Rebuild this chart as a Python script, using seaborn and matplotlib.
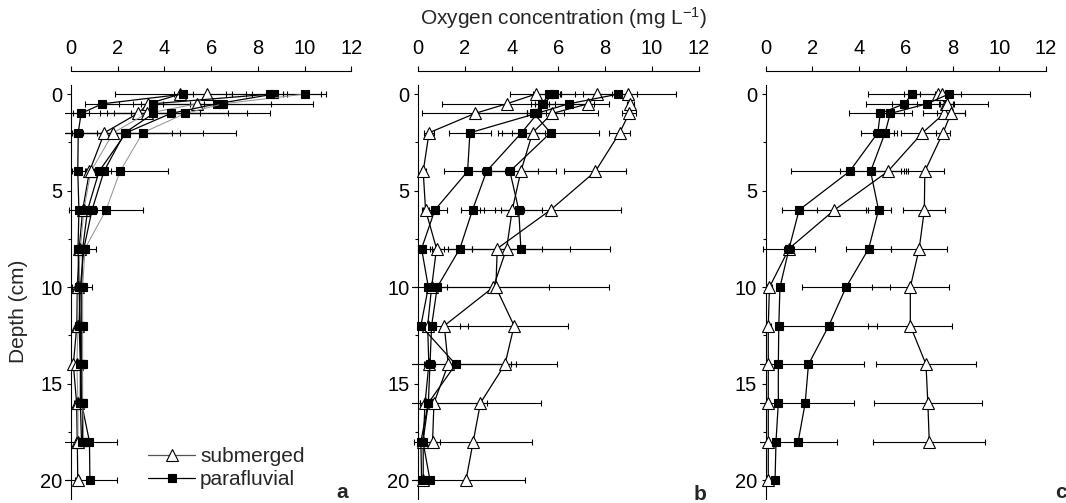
import numpy as np
import pandas as pd
import matplotlib
matplotlib.use("Agg")
import matplotlib.pyplot as plt
import seaborn as sns
from matplotlib.lines import Line2D
from matplotlib.patches import Rectangle
from matplotlib.ticker import MultipleLocator

sns.set_style("ticks")
plt.rcParams["font.family"] = ["Liberation Sans", "DejaVu Sans"]
plt.rcParams["mathtext.fontset"] = "custom"
plt.rcParams["mathtext.rm"] = "Liberation Sans"
plt.rcParams["mathtext.it"] = "Liberation Sans:italic"

nan = np.nan
depths = [0, 0.5, 1, 2, 4, 6, 8, 10, 12, 14, 16, 18, 20]
x_ticks = [0, 2, 4, 6, 8, 10, 12]
y_ticks = [0, 5, 10, 15, 20]
legend_labels = ["submerged", "parafluvial"]
panel_letters = ["a", "b", "c"]

# ---- panel a ----
a_sub1 = [4.67, 3.31, 2.86, 1.43, 0.79, 0.50, 0.35, 0.27, 0.25, 0.10, 0.24, 0.27, 0.29]
a_sub1_err = [2.80, 0.30, 0.30, 0.30, 0.20, 0.20, 0.15, 0.10, 0.10, 0.10, 0.10, 0.10, 0.10]
a_sub2 = [5.81, 5.39, 3.24, 1.81, 0.85, 0.55, 0.40, 0.30, 0.30, 0.25, 0.30, 0.30, nan]
a_sub2_err = [1.10, 0.30, 4.30, 2.50, 0.20, 0.20, 0.15, 0.10, 0.10, 0.10, 0.10, 0.10, nan]
a_par1 = [4.81, 1.34, 0.43, 0.31, 0.29, 0.34, 0.30, 0.35, 0.40, 0.42, 0.45, 0.79, 0.81]
a_par1_err = [0.40, 0.73, 0.36, 0.20, 0.10, 0.10, 0.10, 0.10, 0.10, 0.10, 0.10, 1.17, 1.15]
a_par2 = [8.67, 6.24, 4.27, 2.36, 1.20, 0.71, 0.50, 0.46, 0.46, 0.46, 0.49, 0.50, nan]
a_par2_err = [2.05, 2.30, 2.44, 2.30, 0.30, 0.20, 0.15, 0.43, 0.12, 0.12, 0.12, 0.12, nan]
a_par3 = [10.0, 6.50, 4.89, 3.07, 2.10, 1.50, 0.60, 0.50, 0.50, 0.50, 0.50, 0.55, nan]
a_par3_err = [0.93, 3.85, 3.64, 4.00, 2.07, 1.57, 0.47, 0.15, 0.15, 0.15, 0.15, 0.15, nan]
a_par4 = [8.50, 3.49, 3.53, 2.30, 1.41, 0.90, 0.55, 0.40, 0.35, 0.40, 0.40, 0.45, nan]
a_par4_err = [0.74, 2.00, 2.00, 3.37, 0.30, 0.20, 0.15, 0.10, 0.10, 0.10, 0.10, 0.10, nan]

# ---- panel b ----
b_sub1 = [5.02, 3.78, 2.42, 0.46, 0.21, 0.31, 0.78, 0.57, 0.40, 0.45, 0.29, 0.21, 0.21]
b_sub1_err = [1.10, 2.75, 2.25, 0.20, 0.10, 0.15, 0.30, 0.30, 0.20, 0.20, 0.20, 0.10, 0.10]
b_sub2 = [7.67, 7.27, 5.73, 4.89, 4.39, 4.02, 3.78, 3.21, 1.11, 1.28, 0.67, 0.61, nan]
b_sub2_err = [0.60, 0.90, 0.50, 0.90, 1.50, 0.50, 1.50, 2.40, 1.03, 2.70, 2.25, 0.30, nan]
b_sub3 = [8.99, 9.08, 9.02, 8.62, 7.58, 5.66, 3.38, 3.32, 4.10, 3.71, 2.66, 2.35, 2.04]
b_sub3_err = [0.35, 0.15, 0.30, 0.45, 1.33, 3.00, 3.10, 4.85, 2.30, 2.23, 2.60, 2.52, 2.52]
b_par1 = [5.80, 5.34, 4.95, 5.66, 3.92, 4.30, 4.39, nan, nan, nan, nan, nan, nan]
b_par1_err = [0.90, 0.50, 0.30, 2.06, 1.20, 1.00, 3.80, nan, nan, nan, nan, nan, nan]
b_par2 = [5.60, 5.30, 5.10, 4.42, 2.92, 2.32, 1.78, 0.81, 0.57, 0.50, 0.43, 0.11, 0.14]
b_par2_err = [0.50, 0.30, 2.60, 1.00, 0.80, 0.50, 0.50, 0.43, 0.20, 0.20, 0.15, 0.10, 0.10]
b_par3 = [8.55, 6.44, 5.05, 2.21, 2.11, 0.71, 0.14, 0.43, 0.11, 1.60, 0.43, 0.20, 0.50]
b_par3_err = [2.50, 1.10, 0.40, 0.90, 1.00, 0.50, 0.10, 0.10, 0.10, 2.60, 0.20, 0.10, 0.10]

# ---- panel c ----
c_sub1 = [7.37, 7.70, 7.64, 6.71, 5.23, 2.94, 1.00, 0.16, 0.11, 0.11, 0.11, 0.11, 0.11]
c_sub1_err = [1.00, 0.30, 0.90, 0.90, 0.70, 1.45, 0.20, 0.10, 0.10, 0.05, 0.05, 0.05, 0.05]
c_sub2 = [7.55, 7.75, 7.93, 7.59, 6.81, 6.79, 6.57, 6.19, 6.19, 6.86, 6.94, 7.00, nan]
c_sub2_err = [0.30, 0.30, 0.60, 0.30, 0.80, 0.90, 1.20, 1.64, 1.80, 2.13, 2.30, 2.40, nan]
c_par1 = [6.26, 5.94, 4.90, 4.80, 3.59, 1.43, 1.00, 0.61, 0.56, 0.54, 0.54, 0.44, 0.40]
c_par1_err = [0.35, 0.55, 1.35, 0.70, 2.50, 0.75, 1.10, 0.10, 0.10, 0.10, 0.10, 0.10, 0.10]
c_par2 = [7.83, 6.90, 5.33, 5.11, 4.49, 4.83, 4.41, 3.44, 2.70, 1.83, 1.69, 1.39, nan]
c_par2_err = [3.47, 2.60, 0.60, 0.50, 1.30, 0.55, 0.97, 1.90, 2.05, 2.36, 2.07, 1.68, nan]

BLACK, GRAY = "black", "#8f8f8f"
panels = [
    [("sub", a_sub1, a_sub1_err, BLACK), ("sub", a_sub2, a_sub2_err, GRAY),
     ("par", a_par1, a_par1_err, BLACK), ("par", a_par2, a_par2_err, BLACK),
     ("par", a_par3, a_par3_err, GRAY), ("par", a_par4, a_par4_err, BLACK)],
    [("sub", b_sub1, b_sub1_err, BLACK), ("sub", b_sub2, b_sub2_err, BLACK),
     ("sub", b_sub3, b_sub3_err, BLACK), ("par", b_par1, b_par1_err, BLACK),
     ("par", b_par2, b_par2_err, BLACK), ("par", b_par3, b_par3_err, BLACK)],
    [("sub", c_sub1, c_sub1_err, BLACK), ("sub", c_sub2, c_sub2_err, BLACK),
     ("par", c_par1, c_par1_err, BLACK), ("par", c_par2, c_par2_err, BLACK)],
]

style = {
    "sub": dict(marker="^", markersize=8.0, markerfacecolor="white"),
    "par": dict(marker="s", markersize=5.8, markerfacecolor="black"),
}

fig = plt.figure(figsize=(10.66, 5.03), dpi=100)
lefts = [0.0666, 0.3924, 0.7183]
axes = []
for left, series in zip(lefts, panels):
    ax = fig.add_axes([left, 0.0070, 0.2630, 0.8250])
    axes.append(ax)
    ax.set_xlim(0, 12)
    ax.set_ylim(21, -0.5)
    clip = Rectangle((-0.25, -5), 12.75, 30, transform=ax.transData)
    for kind, vals, errs, col in series:
        df = pd.DataFrame({"depth": depths, "o2": vals, "err": errs}).dropna()
        eb = ax.errorbar(df["o2"], df["depth"], xerr=df["err"], fmt="none",
                         ecolor="black", elinewidth=0.8, capsize=2.3,
                         capthick=0.8, zorder=2)
        for art in eb.get_children():
            art.set_clip_path(clip)
    for kind, vals, errs, col in series:
        df = pd.DataFrame({"depth": depths, "o2": vals, "err": errs}).dropna()
        lw = 0.7 if col == GRAY else 0.9
        sns.lineplot(data=df, x="o2", y="depth", orient="y", estimator=None,
                     color=col, lw=lw, markeredgecolor="black",
                     markeredgewidth=0.8, ax=ax, zorder=3, clip_on=False,
                     **style[kind])
    ax.set_xlabel("")
    ax.set_ylabel("")
    ax.set_xlim(0, 12)
    ax.set_ylim(21, -0.5)
    ax.xaxis.set_ticks_position("top")
    ax.spines["top"].set_position(("outward", 9.8))
    ax.spines["right"].set_visible(False)
    ax.spines["bottom"].set_visible(False)
    for s in ("top", "left"):
        ax.spines[s].set_color("black")
        ax.spines[s].set_linewidth(0.8)
    ax.set_xticks(x_ticks)
    ax.set_yticks(y_ticks)
    ax.yaxis.set_minor_locator(MultipleLocator(2.5))
    ax.tick_params(axis="x", which="major", direction="out", length=3.5,
                   width=0.8, pad=6, labelsize=14.5, top=True, bottom=False,
                   labeltop=True, labelbottom=False, colors="black")
    ax.tick_params(axis="y", which="major", direction="out", length=3.2,
                   width=0.8, pad=3, labelsize=14.5, colors="black")
    ax.tick_params(axis="y", which="minor", direction="out", length=2,
                   width=0.8, colors="black")

handles = [
    Line2D([], [], color="#555555", lw=0.9, markeredgecolor="black",
           markeredgewidth=0.8, **style["sub"]),
    Line2D([], [], color="black", lw=0.9, markeredgecolor="black",
           markeredgewidth=0.8, **style["par"]),
]
axes[0].legend(handles, legend_labels, loc="center left",
               bbox_to_anchor=(0.275, 0.075), frameon=False, fontsize=15,
               handlelength=2.25, handletextpad=0.25, labelspacing=0.2,
               borderpad=0, borderaxespad=0)

fig.text(564 / 1066, 1 - 18 / 503, "Oxygen concentration (mg L$^{-1}$)",
         ha="center", va="center", fontsize=15)
fig.text(19 / 1066, 1 - 311 / 503, "Depth (cm)", rotation=90,
         ha="center", va="center", fontsize=15)
for (lx, ly), letter in zip([(342, 492), (700, 494), (1061, 493)], panel_letters):
    fig.text(lx / 1066, 1 - ly / 503, letter, ha="center", va="center",
             fontsize=15, fontweight="bold")

fig.savefig("out.png", dpi=100)
